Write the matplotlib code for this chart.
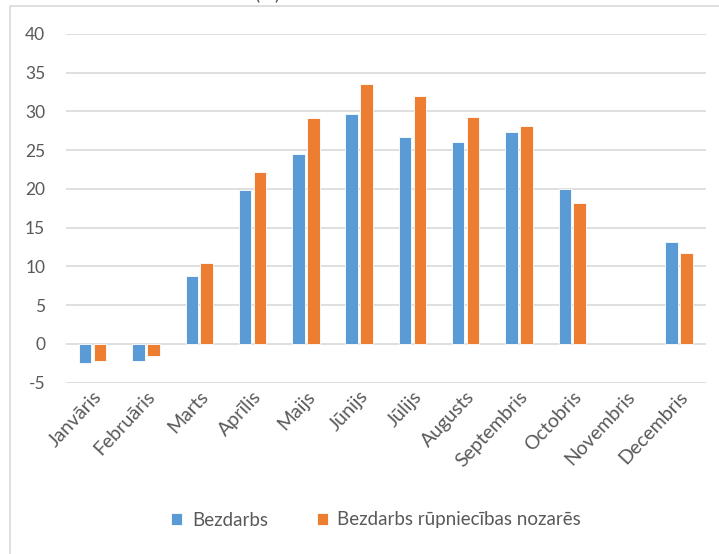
import numpy as np
import matplotlib
matplotlib.use("Agg")
import matplotlib.pyplot as plt
import matplotlib.transforms as mtransforms
from matplotlib.patches import Rectangle

months = ["Janvāris", "Februāris", "Marts", "Aprīlis", "Maijs", "Jūnijs",
          "Jūlijs", "Augusts", "Septembris", "Octobris", "Novembris", "Decembris"]
bezdarbs = [-2.5, -2.2, 8.7, 19.9, 24.5, 29.7, 26.7, 26.1, 27.3, 20.0, np.nan, 13.2]
bezdarbs_rup = [-2.2, -1.6, 10.4, 22.2, 29.1, 33.5, 32.0, 29.3, 28.1, 18.2, np.nan, 11.7]
y_ticks = [-5, 0, 5, 10, 15, 20, 25, 30, 35, 40]

blue = "#5B9BD5"
orange = "#ED7D31"
grid_c = "#D9D9D9"
text_c = "#595959"

plt.rcParams["font.family"] = ["Lato", "DejaVu Sans"]
plt.rcParams["axes.unicode_minus"] = False

W, H = 719, 554
fig = plt.figure(figsize=(W / 100, H / 100), dpi=100)
ax = fig.add_axes([66 / W, 1 - 382.5 / H, (705.5 - 66) / W, (382.5 - 34) / H])

x = np.arange(len(months))
bw = 0.235
off = 0.14
ax.bar(x - off, bezdarbs, bw, color=blue, edgecolor="white", linewidth=0.6,
       label="Bezdarbs", zorder=3)
ax.bar(x + off, bezdarbs_rup, bw, color=orange, edgecolor="white", linewidth=0.6,
       label="Bezdarbs rūpniecības nozarēs", zorder=3)

ax.set_xlim(-0.5, len(months) - 0.5)
ax.set_ylim(-5, 40)
ax.set_yticks(y_ticks)
ax.yaxis.grid(True, color=grid_c, linewidth=1.2, zorder=0)
for s in ax.spines.values():
    s.set_visible(False)
ax.tick_params(axis="both", length=0, colors=text_c)
ax.tick_params(axis="y", pad=15, labelsize=12.5)
ax.set_xticks(x)
ax.set_xticklabels(months, rotation=47, ha="right", va="center",
                   rotation_mode="anchor", fontsize=14)
ax.tick_params(axis="x", pad=8)
shift = mtransforms.ScaledTranslation(6 / 100, 0, fig.dpi_scale_trans)
for lbl in ax.get_xticklabels():
    lbl.set_transform(lbl.get_transform() + shift)

leg = fig.legend(loc="center", bbox_to_anchor=(376 / W, 1 - 520 / H), ncol=2,
                 frameon=False, fontsize=13.5, handlelength=0.6, handleheight=0.6,
                 handletextpad=0.5, columnspacing=2.6)
for t in leg.get_texts():
    t.set_color(text_c)

# chart border (runs off right and bottom edges)
fig.patches.append(Rectangle((10 / W, -0.1), 1.2, 1.1 - 6 / H, transform=fig.transFigure,
                             fill=False, edgecolor=grid_c, linewidth=1.2))

# title, mostly cropped off the top
fig.text(267 / W, 1 + 1 / H, "(%)", ha="center", va="baseline", fontsize=14, color=text_c)

fig.savefig("out.png", dpi=100)
